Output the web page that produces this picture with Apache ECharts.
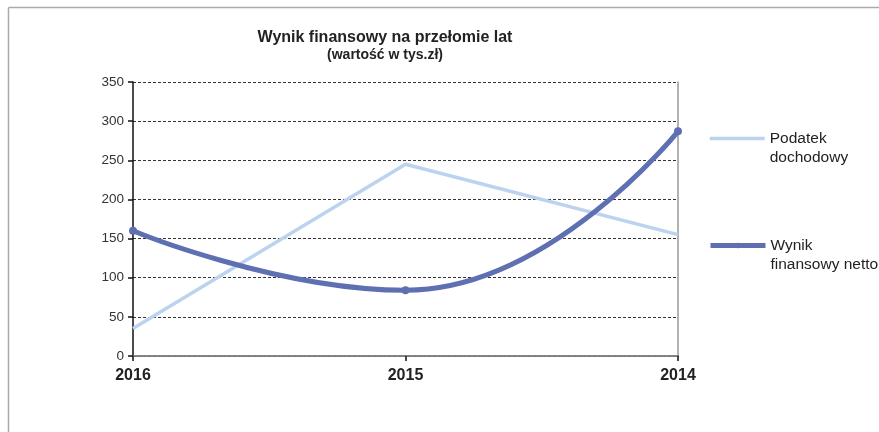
<!DOCTYPE html>
<html><head><meta charset="utf-8">
<script src="https://cdn.jsdelivr.net/npm/echarts@6/dist/echarts.min.js"></script>
<style>html,body{margin:0;padding:0;background:#fff}#c{width:879px;height:432px}</style>
</head><body><div id="c"></div>
<script>
var categories = ['2016', '2015', '2014'];
var podatekValues = [35, 245, 155];
var wynikValues = [160, 84, 287];
var yTicks = [0, 50, 100, 150, 200, 250, 300, 350];
var titleText = 'Wynik finansowy na przełomie lat';
var subtitleText = '(wartość w tys.zł)';
var seriesNames = ['Podatek dochodowy', 'Wynik finansowy netto'];
var legendLabels = ['Podatek\ndochodowy', 'Wynik\nfinansowy netto'];

var chart = echarts.init(document.getElementById('c'));
var font = '"Liberation Sans", Arial, sans-serif';
var legendText = {fontFamily: font, fontSize: 15.5, color: '#222', lineHeight: 19};
chart.setOption({
  animation: false,
  backgroundColor: '#fff',
  textStyle: {fontFamily: font},
  title: {
    text: titleText, subtext: subtitleText, left: 380, top: 25, textAlign: 'center',
    itemGap: 2,
    textStyle: {fontFamily: font, fontSize: 16, fontWeight: 'bold', color: '#222'},
    subtextStyle: {fontFamily: font, fontSize: 14, fontWeight: 'bold', color: '#222'}
  },
  graphic: [
    {type: 'line', shape: {x1: 8.5, y1: 7.5, x2: 879, y2: 7.5}, style: {stroke: '#aaa', lineWidth: 1.5}},
    {type: 'line', shape: {x1: 8.5, y1: 7.5, x2: 8.5, y2: 432}, style: {stroke: '#aaa', lineWidth: 1.5}}
  ],
  legend: [
    {data: [seriesNames[0]], left: 703, top: 105, itemWidth: 55, itemHeight: 8, itemGap: 0,
     itemStyle: {opacity: 0}, lineStyle: {width: 3.5},
     formatter: function(){ return '\n' + legendLabels[0]; },
     textStyle: legendText},
    {data: [seriesNames[1]], left: 703, top: 212, itemWidth: 55, itemHeight: 7, itemGap: 0,
     lineStyle: {width: 5},
     formatter: function(){ return '\n' + legendLabels[1]; },
     textStyle: legendText}
  ],
  grid: {left: 133, right: 201, top: 82, bottom: 76, show: false},
  xAxis: [{
    type: 'category', data: categories, boundaryGap: false,
    axisLine: {lineStyle: {color: '#111', width: 1.5}},
    axisTick: {show: true, length: 5, lineStyle: {color: '#111', width: 1.5}},
    axisLabel: {margin: 12, fontSize: 16, fontWeight: 'bold', color: '#222', fontFamily: font},
    splitLine: {show: false}
  }, {
    type: 'category', data: categories, boundaryGap: false, position: 'top',
    axisLine: {lineStyle: {color: '#999', width: 1.5}},
    axisTick: {show: false}, axisLabel: {show: false}
  }],
  yAxis: [{
    type: 'value', min: 0, max: 350, interval: 50,
    axisLine: {show: true, lineStyle: {color: '#111', width: 1.5}},
    axisTick: {show: true, length: 5, lineStyle: {color: '#111', width: 1.5}},
    axisLabel: {margin: 9, fontSize: 13.5, color: '#333', fontFamily: font,
      formatter: function(v){ return yTicks.indexOf(v) >= 0 ? String(v) : ''; }},
    splitLine: {show: true, lineStyle: {color: '#333', type: [3, 2], width: 1}}
  }, {
    type: 'value', min: 0, max: 350, interval: 50, position: 'right',
    axisLine: {show: true, lineStyle: {color: '#999', width: 1.5}},
    axisTick: {show: false}, axisLabel: {show: false}, splitLine: {show: false}
  }],
  series: [{
    name: seriesNames[0], type: 'line', data: podatekValues,
    symbol: 'none', lineStyle: {color: '#bcd3ef', width: 3.5},
    itemStyle: {color: '#bcd3ef'}, z: 2
  }, {
    name: seriesNames[1], type: 'line', data: wynikValues, smooth: 0.5,
    symbol: 'circle', symbolSize: 8, showSymbol: true,
    lineStyle: {color: '#5f70b2', width: 5},
    itemStyle: {color: '#5f70b2'}, z: 3
  }]
});
</script></body></html>
